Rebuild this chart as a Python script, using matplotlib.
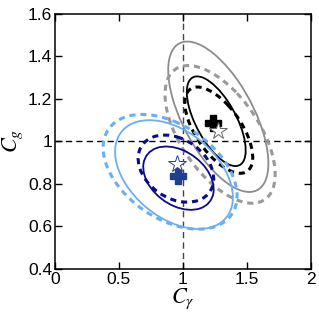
import numpy as np
import matplotlib
matplotlib.use("Agg")
import matplotlib.pyplot as plt
from matplotlib.patches import Ellipse

plt.rcParams['font.family'] = ['Liberation Sans', 'DejaVu Sans']
plt.rcParams['mathtext.fontset'] = 'stix'

# Contour approximations: center, half-extent in x/y, correlation
names = ['gray_solid', 'gray_dashed', 'black_solid', 'black_dashed',
         'lblue_solid', 'lblue_dashed', 'navy_solid', 'navy_dashed']
cx = [1.276, 1.29, 1.26, 1.28, 0.93, 0.90, 0.965, 0.945]
cy = [1.116, 1.033, 1.095, 1.053, 0.844, 0.857, 0.827, 0.872]
hx = [0.391, 0.43, 0.23, 0.265, 0.46, 0.523, 0.275, 0.295]
hy = [0.354, 0.324, 0.211, 0.203, 0.256, 0.27, 0.149, 0.158]
rho = [-0.62, -0.58, -0.65, -0.63, -0.42, -0.42, -0.35, -0.3]
colors = ['#8c8c8c', '#999999', '#000000', '#000000',
          '#6aaef5', '#6aaef5', '#0a0a8a', '#0a0a8a']
dashed = [False, True, False, True, False, True, False, True]

# best-fit markers
plus_x = [1.237, 0.964]
plus_y = [1.0875, 0.8375]
plus_c = ['#000000', '#1f3f8f']
star_x = [1.276, 0.95]
star_y = [1.048, 0.892]
star_ec = ['#666666', '#2a3a9a']

fig = plt.figure(figsize=(3.19, 3.16), dpi=100)
ax = fig.add_axes([0.172, 0.149, 0.803, 0.807])

ax.axvline(1.0, color='#444444', lw=1.0, ls=(0, (4.5, 3)), zorder=1)
ax.axhline(1.0, color='#000000', lw=1.0, ls=(0, (4.5, 3)), zorder=1)

for i in range(len(names)):
    c = np.array([[hx[i]**2, rho[i]*hx[i]*hy[i]],
                  [rho[i]*hx[i]*hy[i], hy[i]**2]])
    vals, vecs = np.linalg.eigh(c)
    order = np.argsort(vals)[::-1]
    vals = vals[order]; vecs = vecs[:, order]
    ang = np.degrees(np.arctan2(vecs[1, 0], vecs[0, 0]))
    e = Ellipse((cx[i], cy[i]), 2*np.sqrt(vals[0]), 2*np.sqrt(vals[1]), angle=ang,
                fill=False, edgecolor=colors[i],
                lw=2.2 if dashed[i] else 1.3,
                ls=(0, (2.0, 1.6)) if dashed[i] else '-', zorder=2)
    ax.add_patch(e)

for x, y, c in zip(plus_x, plus_y, plus_c):
    ax.plot([x], [y], marker='P', ms=11, color=c, mec=c, ls='none', zorder=4)
for x, y, c in zip(star_x, star_y, star_ec):
    ax.plot([x], [y], marker='*', ms=13, mfc='white', mec=c, mew=0.7, ls='none', zorder=4)

ax.set_xlim(0, 2)
ax.set_ylim(0.4, 1.6)
ax.set_xticks([0, 0.5, 1, 1.5, 2])
ax.set_xticklabels(['0', '0.5', '1', '1.5', '2'])
ax.set_yticks([0.4, 0.6, 0.8, 1.0, 1.2, 1.4, 1.6])
ax.set_yticklabels(['0.4', '0.6', '0.8', '1', '1.2', '1.4', '1.6'])
ax.tick_params(direction='in', top=True, right=True, length=5, width=1,
               labelsize=12.5, pad=2)
for s in ax.spines.values():
    s.set_linewidth(1.1)
ax.set_xlabel(r'$C_\gamma$', fontsize=16, labelpad=0)
ax.set_ylabel(r'$C_g$', fontsize=16, labelpad=2)

fig.savefig('out.png', dpi=100)
